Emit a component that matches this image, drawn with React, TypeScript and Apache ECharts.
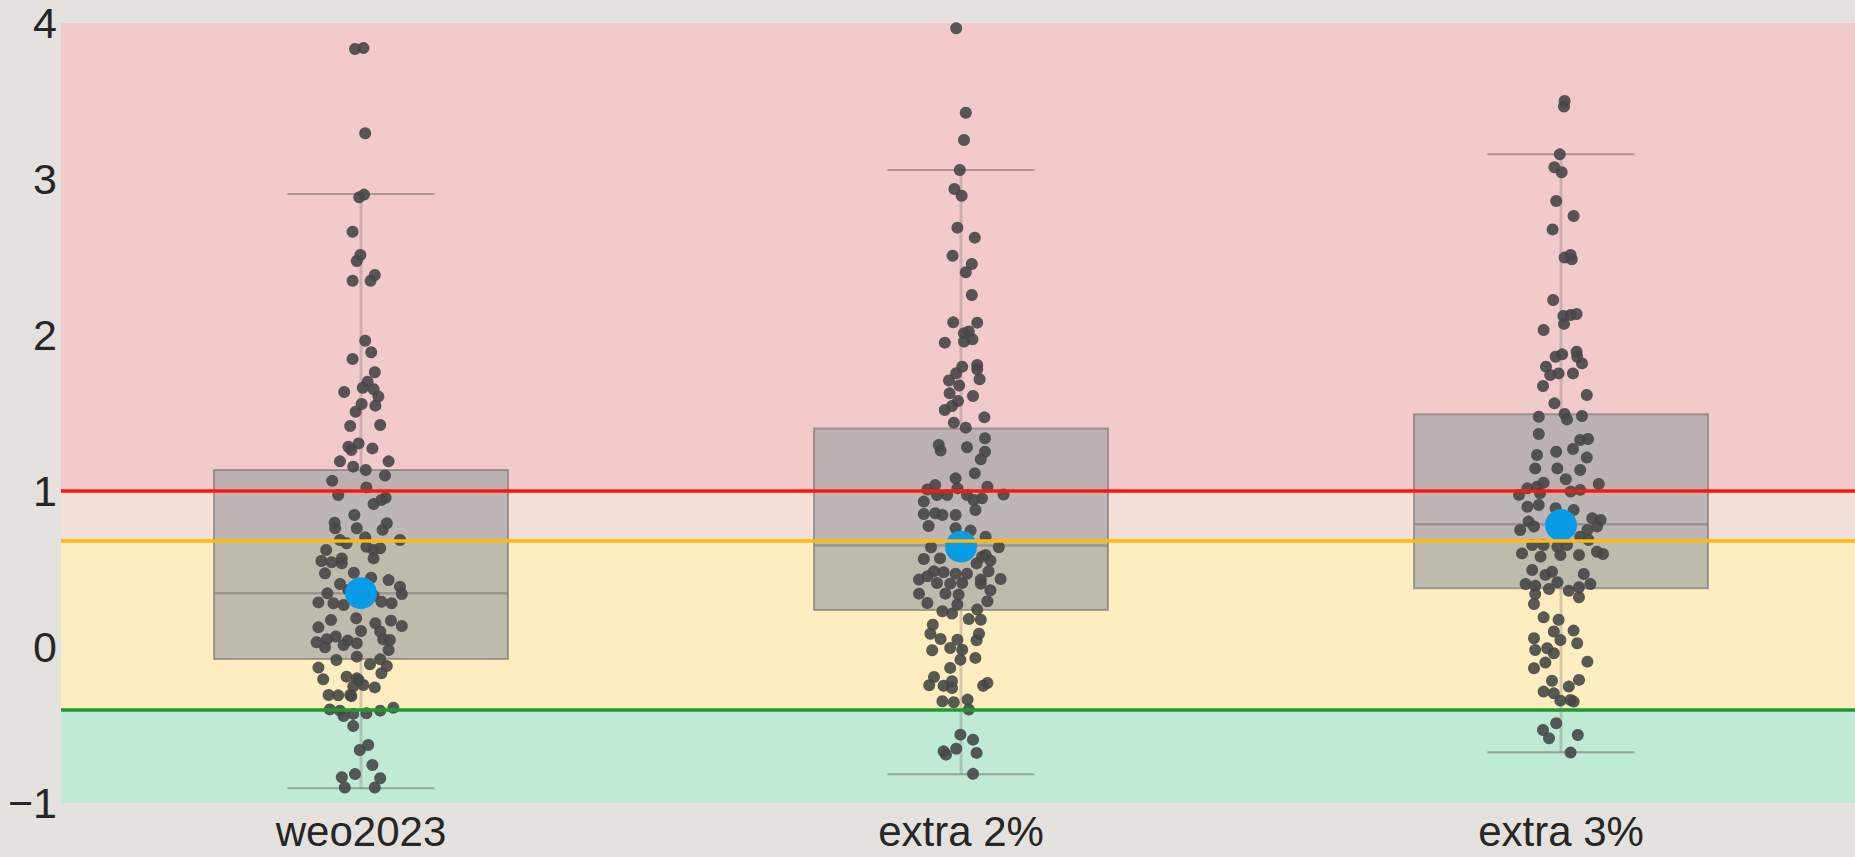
import { useEffect, useRef } from 'react';
import * as echarts from 'echarts';

const categories = ['weo2023', 'extra 2%', 'extra 3%'];
const yMin = -1;
const yMax = 4;

// Box-plot statistics per category
const whiskerLow = [-0.906, -0.816, -0.675];
const quartile1 = [-0.077, 0.237, 0.376];
const medians = [0.344, 0.65, 0.787];
const quartile3 = [1.135, 1.4, 1.492];
const whiskerHigh = [2.904, 3.058, 3.158];
const means = [0.345, 0.643, 0.782];

// Threshold levels
const redThreshold = 1;
const amberThreshold = 0.68;
const greenThreshold = -0.4;

// Individual observations: [horizontal jitter (category units), value]
const weo2023Points: [number, number][] = [
  [-0.010, 3.833], [0.004, 3.84], [0.007, 3.293], [-0.003, 2.883], [0.005, 2.9],
  [-0.014, 2.662], [-0.001, 2.513], [-0.007, 2.474], [-0.014, 2.348], [0.016, 2.348],
  [0.023, 2.385], [0.007, 1.963], [0.017, 1.889], [-0.014, 1.846], [0.023, 1.761],
  [0.011, 1.7], [0.003, 1.662], [0.021, 1.652], [0.029, 1.605], [-0.028, 1.635],
  [0.001, 1.558], [-0.009, 1.508], [0.024, 1.547], [-0.018, 1.417], [0.032, 1.423],
  [-0.021, 1.284], [-0.004, 1.305], [-0.016, 1.263], [0.019, 1.273], [-0.035, 1.19],
  [0.046, 1.19], [-0.013, 1.156], [0.008, 1.135], [0.04, 1.099], [-0.048, 1.065],
  [-0.038, 0.974], [0.009, 1.023], [0.021, 0.917], [0.034, 0.942], [0.041, 0.957],
  [-0.011, 0.846], [-0.044, 0.797], [-0.043, 0.761], [-0.007, 0.761], [0.043, 0.793],
  [0.036, 0.751], [-0.035, 0.686], [0.007, 0.703], [0.065, 0.686], [-0.024, 0.665],
  [0.009, 0.643], [0.021, 0.622], [0.032, 0.633], [-0.058, 0.622], [0.021, 0.568],
  [-0.066, 0.551], [-0.049, 0.543], [-0.032, 0.568], [-0.032, 0.536], [-0.06, 0.472],
  [-0.012, 0.476], [-0.035, 0.404], [0.017, 0.444], [0.046, 0.429], [0.065, 0.387],
  [-0.056, 0.344], [0.068, 0.34], [-0.021, 0.365], [-0.071, 0.286], [-0.046, 0.28],
  [-0.029, 0.269], [0.034, 0.29], [0.051, 0.28], [0.021, 0.329], [-0.05, 0.173],
  [-0.008, 0.184], [-0.071, 0.126], [0.024, 0.152], [0.05, 0.169], [0.068, 0.135],
  [0.0, 0.103], [0.032, 0.099], [0.037, 0.05], [0.048, 0.045], [-0.074, 0.03],
  [-0.057, 0.05], [-0.042, 0.067], [-0.022, 0.041], [-0.007, 0.024], [0.046, -0.019],
  [-0.06, -0.002], [-0.029, 0.013], [-0.041, -0.083], [-0.007, -0.062], [0.032, -0.079],
  [-0.071, -0.132], [0.043, -0.122], [0.015, -0.111], [0.034, -0.168], [-0.063, -0.207],
  [-0.024, -0.19], [-0.007, -0.201], [-0.013, -0.254], [0.004, -0.244], [0.023, -0.259],
  [-0.054, -0.308], [-0.018, -0.308], [-0.004, -0.211], [-0.038, -0.31], [-0.016, -0.315],
  [-0.052, -0.4], [-0.035, -0.408], [-0.013, -0.429], [0.009, -0.425], [0.032, -0.408],
  [0.054, -0.389], [-0.029, -0.442], [-0.013, -0.506], [-0.002, -0.66], [0.012, -0.628],
  [0.019, -0.756], [-0.01, -0.814], [-0.032, -0.835], [0.032, -0.841], [-0.027, -0.901],
  [0.023, -0.901],
];

const extra2Points: [number, number][] = [
  [-0.008, 3.966], [0.008, 3.425], [0.005, 3.25], [-0.002, 3.058], [-0.011, 2.936],
  [0.001, 2.893], [-0.006, 2.688], [0.023, 2.624], [-0.014, 2.508], [0.018, 2.455],
  [0.008, 2.402], [0.018, 2.256], [-0.013, 2.081], [0.027, 2.079], [0.005, 2.011],
  [0.013, 2.022], [0.019, 1.973], [-0.027, 1.951], [0.005, 1.958], [0.002, 1.797],
  [0.027, 1.808], [0.027, 1.78], [-0.008, 1.755], [0.031, 1.716], [-0.02, 1.708],
  [-0.003, 1.676], [-0.019, 1.626], [0.02, 1.609], [-0.005, 1.577], [-0.015, 1.545],
  [-0.027, 1.519], [0.039, 1.472], [-0.012, 1.438], [0.008, 1.406], [0.04, 1.338],
  [-0.037, 1.295], [-0.034, 1.259], [0.01, 1.28], [0.04, 1.252], [0.033, 1.203],
  [0.023, 1.113], [-0.009, 1.081], [-0.043, 1.038], [-0.056, 1.01], [-0.04, 0.974],
  [-0.023, 0.974], [-0.006, 1.017], [0.01, 0.974], [0.021, 0.942], [0.035, 0.953],
  [0.044, 1.028], [0.071, 0.978], [-0.062, 0.932], [0.024, 0.878], [-0.062, 0.853],
  [-0.043, 0.857], [-0.031, 0.846], [-0.009, 0.846], [-0.054, 0.776], [-0.009, 0.761],
  [0.016, 0.746], [0.041, 0.707], [-0.05, 0.639], [0.063, 0.639], [0.041, 0.59],
  [-0.062, 0.564], [-0.035, 0.568], [0.026, 0.536], [0.035, 0.579], [0.049, 0.554],
  [-0.045, 0.485], [-0.029, 0.479], [-0.009, 0.47], [0.01, 0.47], [0.033, 0.432],
  [0.046, 0.485], [0.066, 0.436], [-0.07, 0.432], [-0.056, 0.453], [-0.04, 0.41],
  [-0.018, 0.406], [0.002, 0.41], [0.033, 0.406], [-0.07, 0.342], [-0.026, 0.342],
  [-0.004, 0.336], [0.049, 0.363], [-0.056, 0.282], [-0.006, 0.272], [0.044, 0.293],
  [-0.031, 0.229], [-0.015, 0.214], [0.027, 0.24], [0.013, 0.179], [0.033, 0.175],
  [-0.047, 0.143], [0.03, 0.085], [-0.051, 0.085], [-0.034, 0.051], [-0.006, 0.047],
  [0.026, 0.043], [-0.018, -0.006], [0.002, -0.017], [-0.048, -0.021], [0.024, -0.07],
  [-0.001, -0.081], [-0.018, -0.134], [-0.045, -0.192], [-0.053, -0.245], [-0.029, -0.248],
  [-0.015, -0.22], [-0.015, -0.263], [0.037, -0.248], [0.044, -0.231], [-0.031, -0.348],
  [-0.012, -0.354], [0.011, -0.337], [0.013, -0.401], [-0.001, -0.562], [0.02, -0.594],
  [-0.008, -0.652], [-0.029, -0.669], [-0.025, -0.69], [0.026, -0.679], [0.02, -0.813],
];

const extra3Points: [number, number][] = [
  [0.006, 3.5], [0.005, 3.464], [-0.002, 3.158], [-0.011, 3.075], [0.001, 3.043],
  [-0.008, 2.859], [0.021, 2.763], [-0.014, 2.677], [0.006, 2.496], [0.016, 2.513],
  [0.018, 2.485], [-0.013, 2.224], [0.004, 2.122], [0.016, 2.128], [0.026, 2.135],
  [0.005, 2.071], [-0.029, 2.032], [-0.009, 1.861], [0.002, 1.876], [0.026, 1.893],
  [0.035, 1.818], [0.027, 1.861], [-0.025, 1.797], [-0.018, 1.744], [-0.004, 1.754],
  [0.02, 1.754], [-0.03, 1.673], [0.043, 1.615], [-0.011, 1.562], [-0.037, 1.476],
  [0.006, 1.494], [0.01, 1.459], [0.035, 1.481], [-0.037, 1.365], [0.032, 1.327],
  [0.045, 1.333], [0.02, 1.269], [-0.04, 1.231], [-0.008, 1.252], [0.043, 1.214],
  [-0.043, 1.145], [-0.006, 1.145], [0.032, 1.135], [-0.029, 1.053], [0.008, 1.075],
  [0.063, 1.045], [-0.056, 1.017], [-0.04, 1.028], [-0.07, 0.975], [-0.035, 0.985],
  [0.016, 0.996], [0.032, 1.007], [-0.056, 0.899], [-0.037, 0.91], [-0.009, 0.889],
  [0.021, 0.878], [0.052, 0.825], [0.066, 0.814], [-0.054, 0.804], [-0.068, 0.75],
  [-0.045, 0.772], [0.044, 0.75], [0.06, 0.772], [-0.048, 0.654], [-0.029, 0.654],
  [-0.006, 0.643], [0.01, 0.654], [0.032, 0.707], [0.046, 0.686], [-0.065, 0.6],
  [-0.034, 0.579], [-0.001, 0.59], [0.03, 0.59], [0.06, 0.611], [0.07, 0.596],
  [-0.048, 0.494], [-0.026, 0.462], [-0.015, 0.483], [0.038, 0.468], [-0.059, 0.404],
  [-0.043, 0.393], [-0.02, 0.372], [-0.006, 0.415], [0.013, 0.361], [0.03, 0.383],
  [0.049, 0.404], [-0.043, 0.34], [-0.045, 0.276], [0.03, 0.319], [-0.029, 0.19],
  [-0.004, 0.175], [-0.045, 0.056], [-0.012, 0.099], [0.021, 0.105], [-0.001, 0.045],
  [0.027, 0.024], [-0.023, -0.008], [-0.012, -0.04], [-0.043, -0.019], [0.044, -0.094],
  [-0.045, -0.136], [-0.026, -0.1], [-0.015, -0.216], [0.03, -0.211], [-0.029, -0.286],
  [-0.012, -0.297], [-0.001, -0.344], [0.013, -0.254], [0.016, -0.34], [0.021, -0.35],
  [-0.008, -0.489], [-0.03, -0.532], [-0.02, -0.585], [0.028, -0.564], [0.016, -0.677],
];

const pointGroups = [weo2023Points, extra2Points, extra3Points];

const FONT = '"Liberation Sans", Arial, Helvetica, sans-serif';
const TEXT_COLOR = '#262626';

function formatTick(v: number): string {
  return v < 0 ? '\u2212' + Math.abs(v) : String(v);
}

export default function App() {
  const ref = useRef<HTMLDivElement>(null);

  useEffect(() => {
    if (!ref.current) return;
    const chart = echarts.init(ref.current, undefined, { renderer: 'svg' });

    const boxData = categories.map((_, i) => [
      i,
      whiskerLow[i],
      quartile1[i],
      medians[i],
      quartile3[i],
      whiskerHigh[i],
    ]);

    const stripData: number[][] = [];
    pointGroups.forEach((pts, i) => {
      pts.forEach(([jitter, v]) => stripData.push([i + jitter, v]));
    });

    const meanData = means.map((m, i) => [i, m]);

    const boxWidth = 0.49;
    const capWidth = 0.245;

    chart.setOption({
      animation: false,
      backgroundColor: '#E5E1DE',
      grid: { left: 61, right: 0, top: 23, bottom: 54, containLabel: false },
      xAxis: [
        {
          type: 'value',
          min: -0.5,
          max: 2.5,
          show: false,
        },
        {
          type: 'category',
          data: categories,
          boundaryGap: true,
          position: 'bottom',
          axisLine: { show: false },
          axisTick: { show: false },
          splitLine: { show: false },
          axisLabel: {
            fontSize: 42,
            lineHeight: 38,
            fontFamily: FONT,
            color: TEXT_COLOR,
            margin: 9,
          },
        },
      ],
      yAxis: {
        type: 'value',
        min: yMin,
        max: yMax,
        interval: 1,
        axisLine: { show: false },
        axisTick: { show: false },
        splitLine: { show: false },
        axisLabel: {
          fontSize: 43,
          fontFamily: FONT,
          color: TEXT_COLOR,
          margin: 4,
          showMinLabel: true,
          showMaxLabel: true,
          formatter: formatTick,
        },
      },
      series: [
        {
          // coloured threshold bands
          type: 'scatter',
          xAxisIndex: 0,
          data: [],
          z: 0,
          silent: true,
          markArea: {
            silent: true,
            data: [
              [{ yAxis: redThreshold, itemStyle: { color: '#F2CACB' } }, { yAxis: yMax }],
              [{ yAxis: amberThreshold, itemStyle: { color: '#F5E0D8' } }, { yAxis: redThreshold }],
              [{ yAxis: greenThreshold, itemStyle: { color: '#FEEEBF' } }, { yAxis: amberThreshold }],
              [{ yAxis: yMin, itemStyle: { color: '#BFEBD4' } }, { yAxis: greenThreshold }],
            ],
          },
        },
        {
          type: 'custom',
          xAxisIndex: 0,
          z: 1,
          silent: true,
          data: boxData,
          renderItem: (_params: any, api: any) => {
            const x = api.value(0);
            const lo = api.coord([x, api.value(1)]);
            const b = api.coord([x, api.value(2)]);
            const m = api.coord([x, api.value(3)]);
            const t = api.coord([x, api.value(4)]);
            const hi = api.coord([x, api.value(5)]);
            const w = api.size([boxWidth, 0])[0];
            const cw = api.size([capWidth, 0])[0];
            const whisker = { stroke: 'rgba(110,100,100,0.28)', lineWidth: 3 };
            const cap = { stroke: 'rgba(100,95,95,0.5)', lineWidth: 2 };
            return {
              type: 'group',
              children: [
                { type: 'line', shape: { x1: lo[0], y1: lo[1], x2: b[0], y2: b[1] }, style: whisker },
                { type: 'line', shape: { x1: t[0], y1: t[1], x2: hi[0], y2: hi[1] }, style: whisker },
                { type: 'line', shape: { x1: lo[0] - cw / 2, y1: lo[1], x2: lo[0] + cw / 2, y2: lo[1] }, style: cap },
                { type: 'line', shape: { x1: hi[0] - cw / 2, y1: hi[1], x2: hi[0] + cw / 2, y2: hi[1] }, style: cap },
                {
                  type: 'rect',
                  shape: { x: t[0] - w / 2, y: t[1], width: w, height: b[1] - t[1] },
                  style: { fill: 'rgba(170,168,168,0.75)', stroke: 'rgba(125,118,118,0.65)', lineWidth: 2 },
                },
                {
                  type: 'line',
                  shape: { x1: m[0] - w / 2, y1: m[1], x2: m[0] + w / 2, y2: m[1] },
                  style: { stroke: 'rgba(125,118,118,0.55)', lineWidth: 2.5 },
                },
              ],
            };
          },
        },
        {
          type: 'scatter',
          xAxisIndex: 0,
          z: 2,
          silent: true,
          symbol: 'circle',
          symbolSize: 12,
          itemStyle: { color: '#474747', opacity: 0.9 },
          data: stripData,
        },
        {
          // threshold lines
          type: 'scatter',
          xAxisIndex: 0,
          data: [],
          z: 3,
          silent: true,
          markLine: {
            silent: true,
            symbol: ['none', 'none'],
            label: { show: false },
            data: [
              { yAxis: redThreshold, lineStyle: { color: '#FF1414', width: 3.5, type: 'solid' } },
              { yAxis: amberThreshold, lineStyle: { color: '#FFB90F', width: 3.5, type: 'solid' } },
              { yAxis: greenThreshold, lineStyle: { color: '#1E9A2E', width: 3.5, type: 'solid' } },
            ],
          },
        },
        {
          type: 'scatter',
          xAxisIndex: 0,
          z: 4,
          silent: true,
          symbol: 'circle',
          symbolSize: 32,
          itemStyle: { color: '#0A9BE6', opacity: 1 },
          data: meanData,
        },
      ],
    });

    return () => chart.dispose();
  }, []);

  return (
    <div style={{ position: 'fixed', left: 0, top: 0, width: 1855, height: 857, overflow: 'hidden', background: '#E5E1DE' }}>
      <div ref={ref} style={{ width: 1861, height: 857 }} />
    </div>
  );
}
